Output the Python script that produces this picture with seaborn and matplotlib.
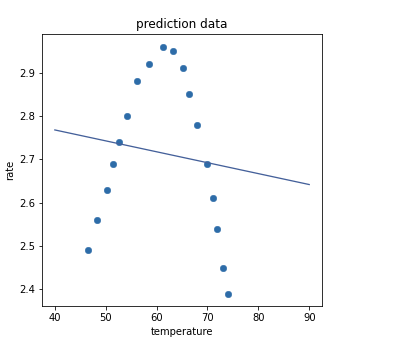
import pandas as pd
import seaborn as sns
import matplotlib
matplotlib.use('Agg')
import matplotlib.pyplot as plt

# scatter values
temperature = [46.6, 48.2, 50.2, 51.5, 52.7, 54.2, 56.2, 58.6, 61.3,
               63.2, 65.2, 66.4, 67.9, 70.0, 71.1, 71.9, 73.0, 74.1]
rate = [2.49, 2.56, 2.63, 2.69, 2.74, 2.80, 2.88, 2.92, 2.96,
        2.95, 2.91, 2.85, 2.78, 2.69, 2.61, 2.54, 2.45, 2.39]

# fitted line endpoints
line_x = [40, 90]
line_y = [2.768, 2.642]

df = pd.DataFrame({'temperature': temperature, 'rate': rate})
line_df = pd.DataFrame({'temperature': line_x, 'rate': line_y})

fig = plt.figure(figsize=(417 / 72, 351 / 72), dpi=72)
ax = fig.add_axes([0.101, 0.128, 0.671, 0.774])

sns.scatterplot(data=df, x='temperature', y='rate', ax=ax, color='#2d6ca8',
                s=42, edgecolor='#2d6ca8', linewidth=0.5)
sns.lineplot(data=line_df, x='temperature', y='rate', ax=ax, color='#44609a', linewidth=1.3)

ax.set_title('prediction data')
ax.set_xlabel('temperature')
ax.set_ylabel('rate')
ax.set_xticks([40, 50, 60, 70, 80, 90])
ax.set_yticks([2.4, 2.5, 2.6, 2.7, 2.8, 2.9])

fig.savefig('out.png', dpi=72)
